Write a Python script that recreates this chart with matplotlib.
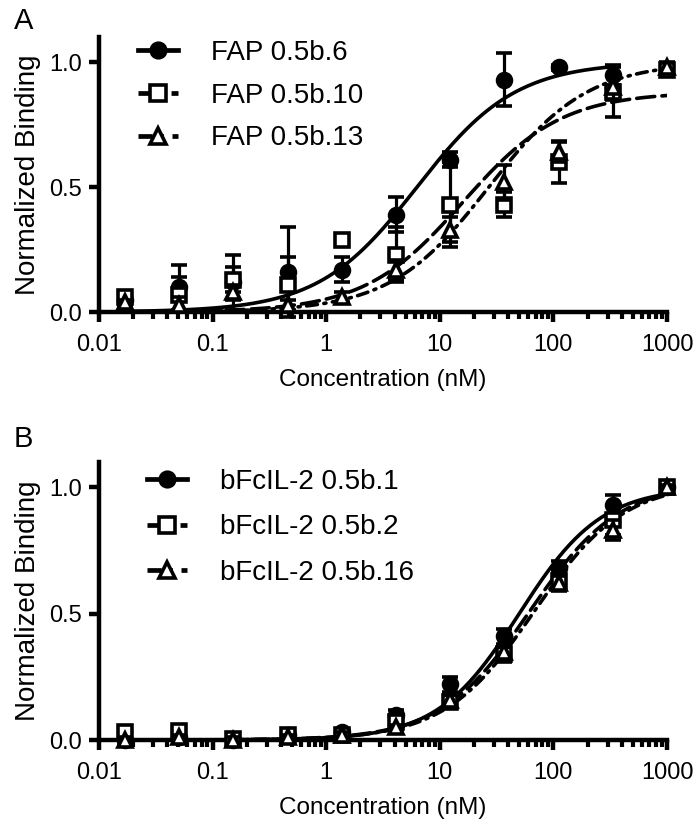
import matplotlib
matplotlib.use("Agg")
import matplotlib.pyplot as plt
import numpy as np
from matplotlib.ticker import LogLocator, NullFormatter, FixedLocator

plt.rcParams['font.family'] = ['Liberation Sans', 'DejaVu Sans']

# concentrations (nM), 3-fold dilution series
conc = [0.0169, 0.0508, 0.152, 0.457, 1.37, 4.12, 12.3, 37.0, 111, 333, 1000]

# panel A
fap6 = [0.05, 0.10, 0.12, 0.16, 0.17, 0.39, 0.61, 0.93, 0.98, 0.95]
fap6_err = [0.02, 0.09, 0.11, 0.18, 0.05, 0.07, 0.03, 0.105, 0.01, 0.04]
fap10 = [0.06, 0.07, 0.13, 0.11, 0.29, 0.23, 0.43, 0.43, 0.60, 0.88, 0.97]
fap10_err = [0.02, 0.07, 0.05, 0.11, 0.02, 0.11, 0.17, 0.05, 0.085, 0.10, 0.02]
fap13 = [0.04, 0.03, 0.08, 0.03, 0.06, 0.17, 0.33, 0.52, 0.64, 0.90, 0.98]
fap13_err = [0.01, 0.03, 0.03, 0.02, 0.02, 0.04, 0.05, 0.07, 0.04, 0.05, 0.02]

# panel B
il1 = [0.0, 0.01, 0.0, 0.02, 0.03, 0.10, 0.22, 0.41, 0.68, 0.93, 1.0]
il1_err = [0.01, 0.01, 0.01, 0.01, 0.01, 0.02, 0.03, 0.03, 0.03, 0.04, 0.01]
il2 = [0.03, 0.035, 0.005, 0.02, 0.02, 0.07, 0.15, 0.34, 0.63, 0.87, 1.0]
il2_err = [0.01, 0.01, 0.01, 0.01, 0.01, 0.02, 0.02, 0.03, 0.03, 0.06, 0.01]
il16 = [0.0, 0.01, 0.0, 0.01, 0.02, 0.05, 0.16, 0.35, 0.62, 0.83, 1.0]
il16_err = [0.01, 0.01, 0.01, 0.01, 0.01, 0.01, 0.02, 0.02, 0.03, 0.04, 0.01]

# fitted curve parameters: (top, EC50, hill, xmax)
fit_A = {"FAP 0.5b.6": (1.0, 6.3, 1.0, 333),
         "FAP 0.5b.10": (0.88, 16, 1.0, 1000),
         "FAP 0.5b.13": (1.0, 27, 1.0, 1000)}
fit_B = {"bFcIL-2 0.5b.1": (1.0, 50, 1.2, 1000),
         "bFcIL-2 0.5b.2": (1.02, 62, 1.1, 1000),
         "bFcIL-2 0.5b.16": (1.02, 68, 1.1, 1000)}

styles = [dict(marker='o', mfc='black', ls='-', ms=10),
          dict(marker='s', mfc='white', ls=(0, (5, 2)), ms=10.5),
          dict(marker='^', mfc='white', ls=(0, (3, 1.8, 0.6, 1.8)), ms=10.5)]

fig = plt.figure(figsize=(6.98, 8.25), dpi=100)
axA = fig.add_axes([0.1418, 0.6218, 0.8138, 0.3333])
axB = fig.add_axes([0.1418, 0.1030, 0.8138, 0.3370])


def draw(ax, series, fits):
    handles = []
    for k, (name, (y, e)) in enumerate(series.items()):
        st = styles[k]
        top, ec50, hill, xmax = fits[name]
        xs = np.logspace(np.log10(conc[0]), np.log10(xmax), 300)
        ys = top * xs**hill / (xs**hill + ec50**hill)
        ax.plot(xs, ys, color='black', lw=2.6, ls=st['ls'], zorder=2,
                dash_capstyle='round')
        xx = conc[:len(y)]
        ax.errorbar(xx, y, yerr=e, fmt='none', ecolor='black', elinewidth=2.3,
                    capsize=5.5, capthick=2.6, zorder=3 + k, clip_on=False)
        ax.plot(xx, y, ls='none', marker=st['marker'], ms=st['ms'],
                mfc=st['mfc'], mec='black', mew=2.6, zorder=3 + k, clip_on=False)
        h, = ax.plot([], [], color='black', lw=3.4, ls=st['ls'], marker=st['marker'],
                     ms=st['ms'] + 0.5, mfc=st['mfc'], mec='black', mew=2.6)
        handles.append(h)
    ax.set_xscale('log')
    ax.set_xlim(0.01, 1000)
    ax.set_ylim(0, 1.1)
    ax.set_yticks([0.0, 0.5, 1.0])
    ax.set_yticklabels(['0.0', '0.5', '1.0'])
    ax.xaxis.set_major_locator(FixedLocator([0.01, 0.1, 1, 10, 100, 1000]))
    ax.set_xticklabels(['0.01', '0.1', '1', '10', '100', '1000'])
    ax.xaxis.set_minor_locator(LogLocator(base=10, subs=np.arange(2, 10)))
    ax.xaxis.set_minor_formatter(NullFormatter())
    for s in ['top', 'right']:
        ax.spines[s].set_visible(False)
    for s in ['left', 'bottom']:
        ax.spines[s].set_linewidth(3.2)
    ax.tick_params(axis='both', which='major', length=7.5, width=3.2, labelsize=17)
    ax.tick_params(axis='x', which='major', pad=8)
    ax.tick_params(axis='y', which='major', pad=5)
    ax.tick_params(axis='x', which='minor', length=5, width=3)
    ax.set_xlabel('Concentration (nM)', fontsize=17.5, labelpad=10)
    ax.set_ylabel('Normalized Binding', fontsize=20, labelpad=6)
    return handles


hA = draw(axA, {"FAP 0.5b.6": (fap6, fap6_err),
                "FAP 0.5b.10": (fap10, fap10_err),
                "FAP 0.5b.13": (fap13, fap13_err)}, fit_A)
hB = draw(axB, {"bFcIL-2 0.5b.1": (il1, il1_err),
                "bFcIL-2 0.5b.2": (il2, il2_err),
                "bFcIL-2 0.5b.16": (il16, il16_err)}, fit_B)

leg_kw = dict(loc='upper left', bbox_transform=fig.transFigure, frameon=False,
              fontsize=20, handlelength=1.44, handletextpad=1.2,
              borderpad=0, borderaxespad=0)
axA.legend(hA, list(fit_A.keys()), bbox_to_anchor=(138 / 698, 1 - 40 / 825),
           labelspacing=0.6, **leg_kw)
axB.legend(hB, list(fit_B.keys()), bbox_to_anchor=(147 / 698, 1 - 469 / 825),
           labelspacing=0.7, **leg_kw)

fig.text(14 / 698, 1 - 29 / 825, 'A', fontsize=21)
fig.text(14 / 698, 1 - 447 / 825, 'B', fontsize=21)

fig.savefig('out.png', dpi=100)
